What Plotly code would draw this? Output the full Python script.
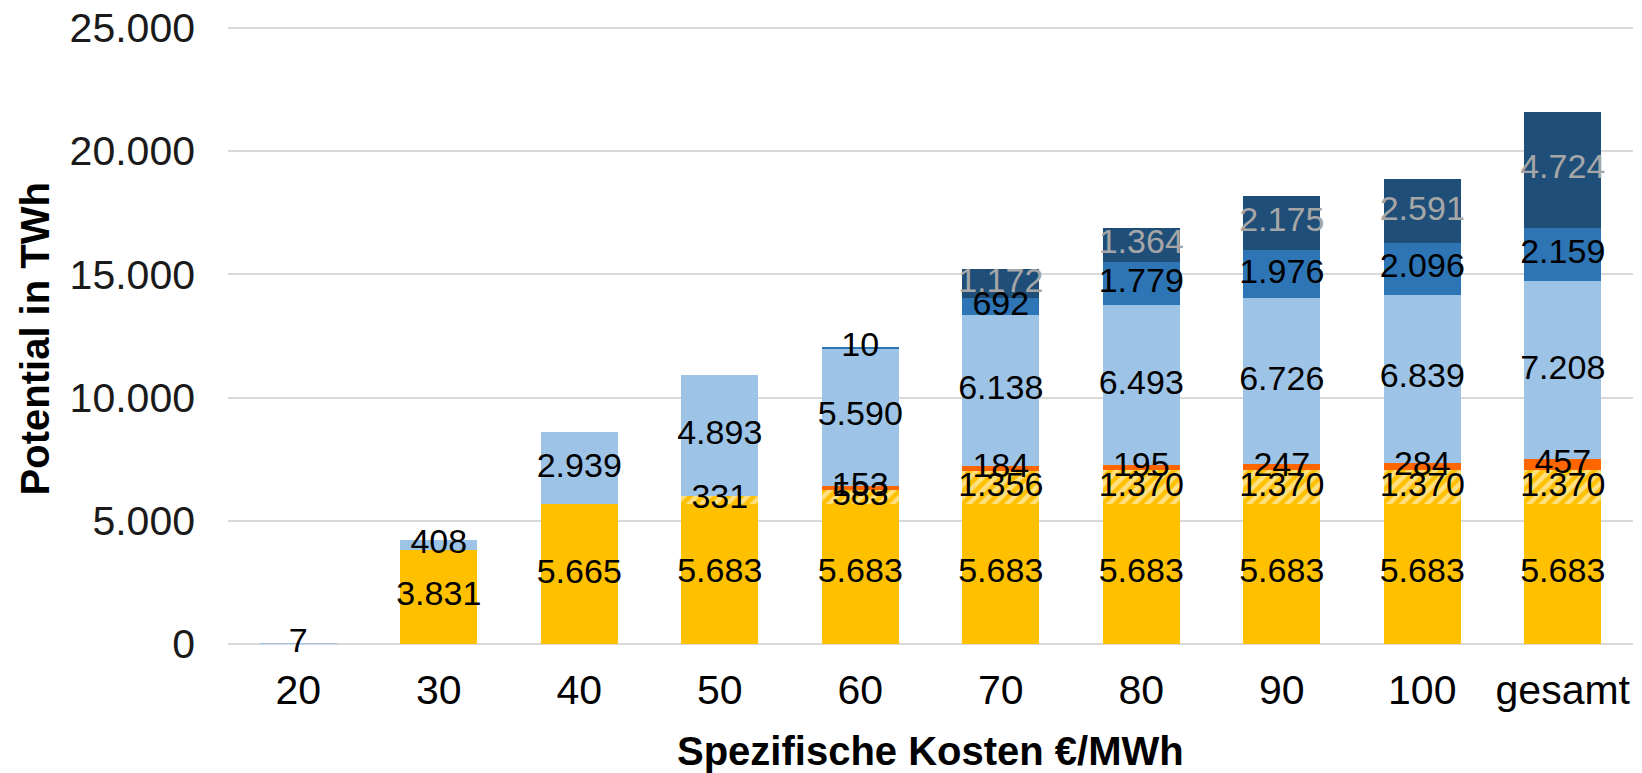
import plotly.graph_objects as go

categories = ["20", "30", "40", "50", "60", "70", "80", "90", "100", "gesamt"]

yellow_solid = [0, 3831, 5665, 5683, 5683, 5683, 5683, 5683, 5683, 5683]
yellow_hatched = [0, 0, 0, 331, 583, 1356, 1370, 1370, 1370, 1370]
orange = [0, 0, 0, 0, 153, 184, 195, 247, 284, 457]
light_blue = [7, 408, 2939, 4893, 5590, 6138, 6493, 6726, 6839, 7208]
medium_blue = [0, 0, 0, 0, 10, 692, 1779, 1976, 2096, 2159]
dark_blue = [0, 0, 0, 0, 0, 1172, 1364, 2175, 2591, 4724]

y_ticks = [0, 5000, 10000, 15000, 20000, 25000]

series = [
    ("Solid", yellow_solid, "#FFC000", None, "black"),
    ("Hatched", yellow_hatched, "#FFC000", "/", "black"),
    ("Orange", orange, "#FF6600", None, "black"),
    ("Light blue", light_blue, "#9DC3E6", None, "black"),
    ("Medium blue", medium_blue, "#2E75B6", None, "black"),
    ("Dark blue", dark_blue, "#1F4E79", None, "#A6A6A6"),
]

FONT = "Liberation Sans, Arial, sans-serif"

def de_fmt(v):
    return f"{v:,}".replace(",", ".")

fig = go.Figure()
for name, vals, color, pattern, _tc in series:
    marker = dict(color=color, line=dict(width=0))
    if pattern:
        marker["pattern"] = dict(shape=pattern, fgcolor="white", bgcolor=color,
                                 size=9, solidity=0.5, fillmode="overlay")
    fig.add_trace(go.Bar(x=categories, y=vals, name=name, marker=marker,
                         hoverinfo="skip", showlegend=False))

# data labels at segment centres
base = [0] * len(categories)
for name, vals, color, pattern, tc in series:
    xs, ys, ts = [], [], []
    for i, v in enumerate(vals):
        if v > 0:
            xs.append(categories[i])
            ys.append(base[i] + v / 2)
            ts.append(de_fmt(v))
        base[i] += v
    fig.add_trace(go.Scatter(x=xs, y=ys, text=ts, mode="text",
                             textfont=dict(family=FONT, size=34, color=tc),
                             hoverinfo="skip", showlegend=False, cliponaxis=False))

fig.update_layout(
    width=1634, height=765,
    barmode="stack", bargap=0.45,
    plot_bgcolor="white", paper_bgcolor="white",
    separators=",.",
    margin=dict(l=220, r=9, t=15, b=129, autoexpand=False),
    font=dict(family=FONT, color="black"),
    xaxis=dict(showgrid=False, showline=False, ticks="", automargin=False,
               tickfont=dict(family=FONT, size=41, color="black"),
               ticklabelstandoff=18),
    yaxis=dict(range=[0, 25200], tickvals=y_ticks, tickformat=",d",
               automargin=False,
               showgrid=True, gridcolor="#D9D9D9", gridwidth=2,
               zeroline=True, zerolinecolor="#D9D9D9", zerolinewidth=2,
               showline=False, ticks="", ticklabeloverflow="allow",
               tickfont=dict(family=FONT, size=41, color="#1a1a1a"),
               ticklabelstandoff=32),
    annotations=[
        dict(text="<b>Spezifische Kosten €/MWh</b>", xref="paper", yref="paper",
             x=0.5, y=-0.172, xanchor="center", yanchor="middle", showarrow=False,
             font=dict(family=FONT, size=40, color="black")),
        dict(text="<b>Potential in TWh</b>", xref="paper", yref="paper",
             x=-0.1367, y=0.492, xanchor="center", yanchor="middle", showarrow=False,
             textangle=-90, font=dict(family=FONT, size=40, color="black")),
    ],
)

fig.write_html("out.html")
